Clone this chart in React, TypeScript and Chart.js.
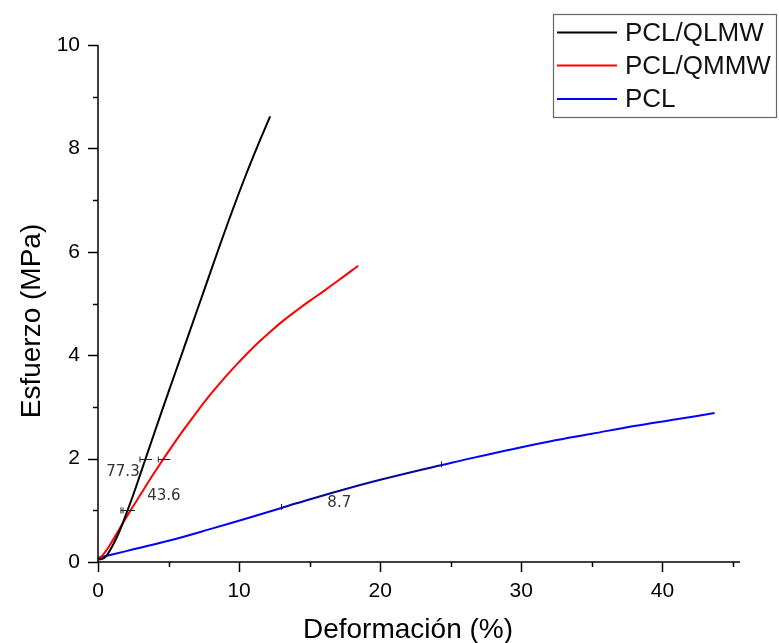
import React, { useEffect, useRef } from "react";
import { Chart, registerables } from "chart.js";
Chart.register(...registerables);

const FONT = "'Liberation Sans', Arial, sans-serif";

// PCL/QLMW (black)
const qlmwX = [0, 0.3, 0.6, 1.0, 1.5, 2.0, 2.5, 3.0, 3.5, 4.5, 5.5, 6.5, 7.5, 8.5, 9.5, 10.5, 11.3, 12.2];
const qlmwY = [0.05, 0.06, 0.12, 0.3, 0.58, 0.93, 1.3, 1.7, 2.1, 2.9, 3.68, 4.46, 5.24, 6.02, 6.78, 7.5, 8.04, 8.62];
// PCL/QMMW (red)
const qmmwX = [0, 0.5, 1.0, 1.5, 2.2, 3, 4, 5, 6, 7, 8, 9, 10, 11, 12, 13, 14, 15, 16, 17, 18, 18.44];
const qmmwY = [0.03, 0.19, 0.4, 0.63, 0.95, 1.3, 1.73, 2.14, 2.53, 2.9, 3.25, 3.57, 3.87, 4.15, 4.4, 4.64, 4.85, 5.05, 5.24, 5.44, 5.64, 5.73];
// PCL (blue)
const pclX = [0, 2, 5, 8, 11, 13, 14, 17, 20, 23, 24.3, 26, 29, 32, 35, 38, 41, 43.7];
const pclY = [0.08, 0.21, 0.41, 0.64, 0.88, 1.045, 1.13, 1.37, 1.59, 1.79, 1.87, 1.98, 2.16, 2.33, 2.48, 2.63, 2.76, 2.88];

const seriesNames = ["PCL/QLMW", "PCL/QMMW", "PCL"];
const seriesColors = ["#000000", "#ff0000", "#0000ff"];

const xMajorTicks = [0, 10, 20, 30, 40];
const xMinorTicks = [5, 15, 25, 35, 45];
const yMajorTicks = [0, 2, 4, 6, 8, 10];
const yMinorTicks = [1, 3, 5, 7, 9];

// fit-range marks: [x, y]
const fitMarksH = [
  [2.05, 1.0],
  [3.4, 2.0],
  [2.2, 1.0],
  [4.7, 2.0],
];
const pclFitRange = [13.0, 24.3];
const fitLabels = ["77.3", "43.6", "8.7"];
const fitLabelX = [1.77, 4.67, 17.1];
const fitLabelY = [1.74, 1.28, 1.14];

const xTitle = "Deformación (%)";
const yTitle = "Esfuerzo (MPa)";

function pts(xs: number[], ys: number[]) {
  return xs.map((x, i) => ({ x, y: ys[i] }));
}

export default function App() {
  const ref = useRef<HTMLCanvasElement>(null);
  useEffect(() => {
    const canvas = ref.current!;
    const fitIdx = pclX.map((x, i) => i).filter((i) => pclX[i] >= pclFitRange[0] && pclX[i] <= pclFitRange[1]);
    const deco = {
      id: "deco",
      afterDraw(chart: any) {
        const ctx = chart.ctx;
        const xs = chart.scales.x;
        const ys = chart.scales.y;
        const a = chart.chartArea;
        ctx.save();
        // axes
        ctx.strokeStyle = "#000";
        ctx.lineWidth = 1.5;
        ctx.beginPath();
        ctx.moveTo(a.left, a.top);
        ctx.lineTo(a.left, a.bottom);
        ctx.lineTo(a.right, a.bottom);
        ctx.stroke();
        for (const v of yMajorTicks.concat(yMinorTicks)) {
          const len = yMajorTicks.includes(v) ? 10 : 5;
          const p = Math.round(ys.getPixelForValue(v)) + 0.5;
          ctx.beginPath();
          ctx.moveTo(a.left - len, p);
          ctx.lineTo(a.left, p);
          ctx.stroke();
        }
        for (const v of xMajorTicks.concat(xMinorTicks)) {
          const len = xMajorTicks.includes(v) ? 10 : 5;
          const p = Math.round(xs.getPixelForValue(v)) + 0.5;
          ctx.beginPath();
          ctx.moveTo(p, a.bottom);
          ctx.lineTo(p, a.bottom + len);
          ctx.stroke();
        }
        // fit marks
        ctx.strokeStyle = "#222";
        ctx.lineWidth = 1;
        for (const [mx, my] of fitMarksH) {
          const px = xs.getPixelForValue(mx);
          const py = Math.round(ys.getPixelForValue(my)) + 0.5;
          ctx.beginPath();
          ctx.moveTo(px - 6, py);
          ctx.lineTo(px + 6, py);
          ctx.moveTo(px - 6, py - 3);
          ctx.lineTo(px - 6, py + 3);
          ctx.stroke();
        }
        for (const i of [fitIdx[0], fitIdx[fitIdx.length - 1]]) {
          const px = Math.round(xs.getPixelForValue(pclX[i])) + 0.5;
          const py = ys.getPixelForValue(pclY[i]);
          ctx.beginPath();
          ctx.moveTo(px, py - 4);
          ctx.lineTo(px, py + 2);
          ctx.stroke();
        }
        ctx.fillStyle = "#333";
        ctx.font = "15px 'DejaVu Sans', sans-serif";
        ctx.textAlign = "center";
        ctx.textBaseline = "middle";
        fitLabels.forEach((t, i) => {
          ctx.fillText(t, xs.getPixelForValue(fitLabelX[i]), ys.getPixelForValue(fitLabelY[i]));
        });
        // titles
        ctx.fillStyle = "#000";
        ctx.font = `28px ${FONT}`;
        ctx.textBaseline = "alphabetic";
        ctx.fillText(xTitle, 408, 638);
        ctx.save();
        ctx.translate(40, 321);
        ctx.rotate(-Math.PI / 2);
        ctx.fillText(yTitle, 0, 0);
        ctx.restore();
        // legend
        ctx.strokeStyle = "#666";
        ctx.lineWidth = 1.2;
        ctx.strokeRect(553.5, 14.5, 223, 103);
        const rows = [32.5, 65.5, 99];
        ctx.font = `26px ${FONT}`;
        ctx.textAlign = "left";
        ctx.textBaseline = "middle";
        seriesNames.forEach((n, i) => {
          ctx.strokeStyle = seriesColors[i];
          ctx.lineWidth = 2;
          ctx.beginPath();
          ctx.moveTo(557, rows[i]);
          ctx.lineTo(617, rows[i]);
          ctx.stroke();
          ctx.fillStyle = "#111";
          ctx.fillText(n, 625, rows[i] + 1);
        });
        ctx.restore();
      },
    };
    const common = { borderWidth: 2, pointRadius: 0, tension: 0.4 };
    const chart = new Chart(canvas, {
      type: "line",
      data: {
        datasets: [
          {
            label: "fit",
            data: pts(fitIdx.map((i) => pclX[i]), fitIdx.map((i) => pclY[i])),
            borderColor: "#111144",
            borderWidth: 1,
            pointRadius: 0,
            tension: 0.4,
          },
          { label: seriesNames[0], data: pts(qlmwX, qlmwY), borderColor: seriesColors[0], ...common },
          { label: seriesNames[1], data: pts(qmmwX, qmmwY), borderColor: seriesColors[1], ...common },
          { label: seriesNames[2], data: pts(pclX, pclY), borderColor: seriesColors[2], ...common },
        ],
      },
      options: {
        animation: false,
        responsive: false,
        maintainAspectRatio: false,
        layout: { padding: { top: 45, right: 39, left: 0, bottom: 0 } },
        plugins: { legend: { display: false }, tooltip: { enabled: false } },
        scales: {
          x: {
            type: "linear",
            min: 0,
            max: 45.5,
            grid: { display: false, drawTicks: false },
            border: { display: false },
            ticks: {
              stepSize: 5,
              autoSkip: false,
              includeBounds: false,
              maxRotation: 0,
              padding: 17,
              color: "#000",
              font: { size: 21, family: FONT },
              callback: (v: any) => (xMajorTicks.includes(Number(v)) ? String(v) : ""),
            },
            afterFit: (s: any) => {
              s.height = 81;
            },
          },
          y: {
            type: "linear",
            min: 0,
            max: 10,
            grid: { display: false, drawTicks: false },
            border: { display: false },
            ticks: {
              stepSize: 1,
              autoSkip: false,
              padding: 18,
              color: "#000",
              font: { size: 21, family: FONT },
              callback: (v: any) => (yMajorTicks.includes(Number(v)) ? String(v) : ""),
            },
            afterFit: (s: any) => {
              s.width = 98;
            },
          },
        },
      },
      plugins: [deco],
    } as any);
    return () => chart.destroy();
  }, []);
  return (
    <div style={{ position: "absolute", left: 0, top: 0, width: 779, height: 643, background: "#fff" }}>
      <canvas ref={ref} width={779} height={643} />
    </div>
  );
}
